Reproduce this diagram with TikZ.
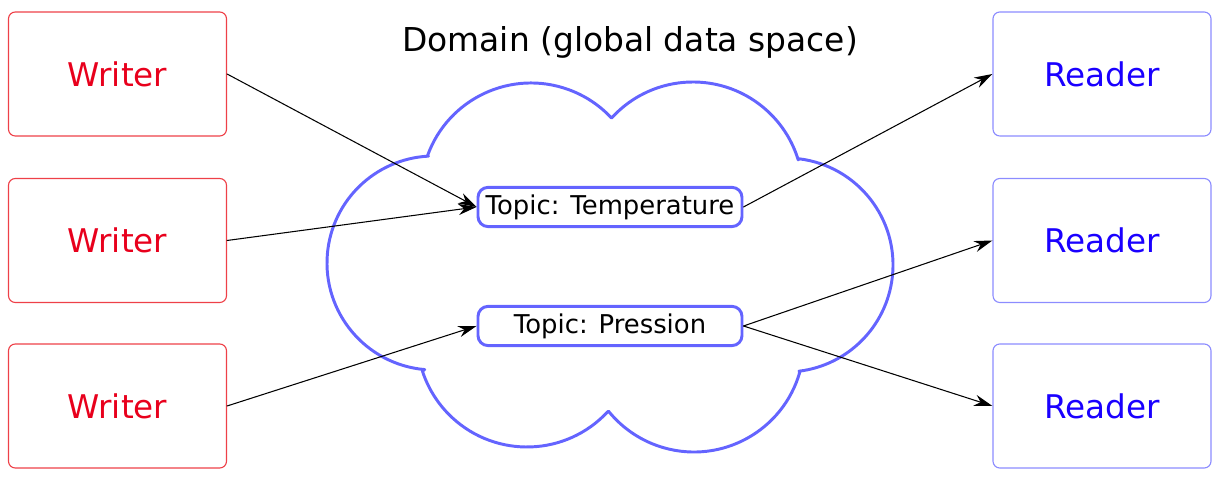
\documentclass[tikz,border=0pt]{standalone}
\usepackage{fontspec}
\setmainfont{DejaVu Sans}
\usetikzlibrary{arrows.meta}

\definecolor{rosso}{RGB}{232,0,28}
\definecolor{rossobordo}{RGB}{238,64,72}
\definecolor{blu}{RGB}{26,0,255}
\definecolor{blubordo}{RGB}{140,140,255}
\definecolor{nuvola}{RGB}{100,100,255}

\begin{document}
\begin{tikzpicture}[line cap=round, line join=round,
  scrittore/.style={draw=rossobordo, line width=0.8pt, rounded corners=0.17cm,
    minimum width=5.45cm, minimum height=3.1cm, inner sep=0pt,
    text=rosso, font=\fontsize{23.2}{27}\selectfont},
  lettore/.style={draw=blubordo, line width=0.8pt, rounded corners=0.17cm,
    minimum width=5.45cm, minimum height=3.1cm, inner sep=0pt,
    text=blu, font=\fontsize{23.2}{27}\selectfont},
  argomento/.style={draw=nuvola, line width=2.1pt, rounded corners=0.25cm,
    minimum width=6.6cm, minimum height=0.98cm, inner sep=0pt,
    font=\fontsize{18.4}{21}\selectfont},
  freccia/.style={-{Stealth[length=13pt,width=8pt]}, line width=0.75pt}]

\useasboundingbox (0,0) rectangle (30.65,12.05);

% nuvola del dominio
\coordinate (C1) at (13.275,7.225);
\coordinate (C2) at (17.325,7.25);
\coordinate (C3) at (19.65,5.425);
\coordinate (C4) at (17.35,3.5);
\coordinate (C5) at (13.175,3.625);
\coordinate (C6) at (10.85,5.475);

\draw[nuvola, line width=2.1pt]
  ([shift={(160:2.75)}]C1) arc[start angle=160, end angle=43, radius=2.75]
  -- ([shift={(137:2.75)}]C2) arc[start angle=137, end angle=17, radius=2.75]
  -- ([shift={(83:2.675)}]C3) arc[start angle=83, end angle=-83, radius=2.675]
  -- ([shift={(-16:2.75)}]C4) arc[start angle=-16, end angle=-141, radius=2.75]
  -- ([shift={(-43:2.75)}]C5) arc[start angle=-43, end angle=-162, radius=2.75]
  -- ([shift={(265:2.675)}]C6) arc[start angle=265, end angle=93, radius=2.675]
  -- cycle;

% titolo
\node[anchor=base, font=\fontsize{23.4}{27}\selectfont] (dominio) at (15.75,10.75) {Domain (global data space)};

% scrittori
\node[scrittore] (W1) at (2.9375,10.2) {Writer};
\node[scrittore] (W2) at (2.9375,6.0375) {Writer};
\node[scrittore] (W3) at (2.9375,1.9) {Writer};

% lettori
\node[lettore] (R1) at (27.55,10.2) {Reader};
\node[lettore] (R2) at (27.55,6.0375) {Reader};
\node[lettore] (R3) at (27.55,1.9) {Reader};

% topic
\node[argomento] (T1) at (15.25,6.875) {Topic: Temperature};
\node[argomento] (T2) at (15.25,3.9) {Topic: Pression};

% frecce
\draw[freccia] (W1.east) -- (T1.west);
\draw[freccia] (W2.east) -- (T1.west);
\draw[freccia] (W3.east) -- (T2.west);
\draw[freccia] (T1.east) -- (R1.west);
\draw[freccia] (T2.east) -- (R2.west);
\draw[freccia] (T2.east) -- (R3.west);

\end{tikzpicture}
\end{document}
